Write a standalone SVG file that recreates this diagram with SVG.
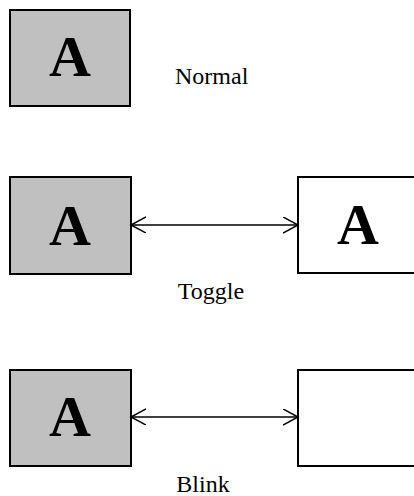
<svg xmlns="http://www.w3.org/2000/svg" width="414" height="496" viewBox="0 0 414 496">
<style>
.gray{fill:#c0c0c0;stroke:#000;stroke-width:2}
.white{fill:#fff;stroke:#000;stroke-width:2}
.big{font-family:"Liberation Serif","Times New Roman",serif;font-weight:bold;font-size:58px;text-anchor:middle;fill:#000}
.lbl{font-family:"Liberation Serif","Times New Roman",serif;font-size:24px;fill:#000}
.conn{stroke:#000;stroke-width:1.5;fill:none}
</style>
<defs>
<marker id="ah" markerUnits="userSpaceOnUse" markerWidth="20" markerHeight="20" refX="15" refY="8" orient="auto-start-reverse">
<path d="M0,0 L15,8 L0,16" fill="none" stroke="#000" stroke-width="1.5"/>
</marker>
</defs>
<rect width="414" height="496" fill="#fff"/>
<g id="normal">
<rect class="gray" x="10" y="10" width="120" height="96"/>
<text class="big" x="70" y="76">A</text>
</g>
<text class="lbl" x="175" y="84">Normal</text>
<g id="toggle-on">
<rect class="gray" x="10" y="177" width="121" height="97"/>
<text class="big" x="70" y="245">A</text>
</g>
<g id="toggle-off">
<rect class="white" x="298" y="177" width="130" height="96"/>
<text class="big" x="358" y="244">A</text>
</g>
<text class="lbl" x="211" y="299" text-anchor="middle">Toggle</text>
<g id="blink-on">
<rect class="gray" x="10" y="370" width="121" height="96"/>
<text class="big" x="70" y="436">A</text>
</g>
<g id="blink-off">
<rect class="white" x="298" y="370" width="130" height="96"/>
</g>
<text class="lbl" x="203" y="492" text-anchor="middle">Blink</text>
<g id="connectors">
<line class="conn" x1="131" y1="225" x2="298" y2="225" marker-start="url(#ah)" marker-end="url(#ah)"/>
<line class="conn" x1="131" y1="417" x2="298" y2="417" marker-start="url(#ah)" marker-end="url(#ah)"/>
</g>
</svg>
